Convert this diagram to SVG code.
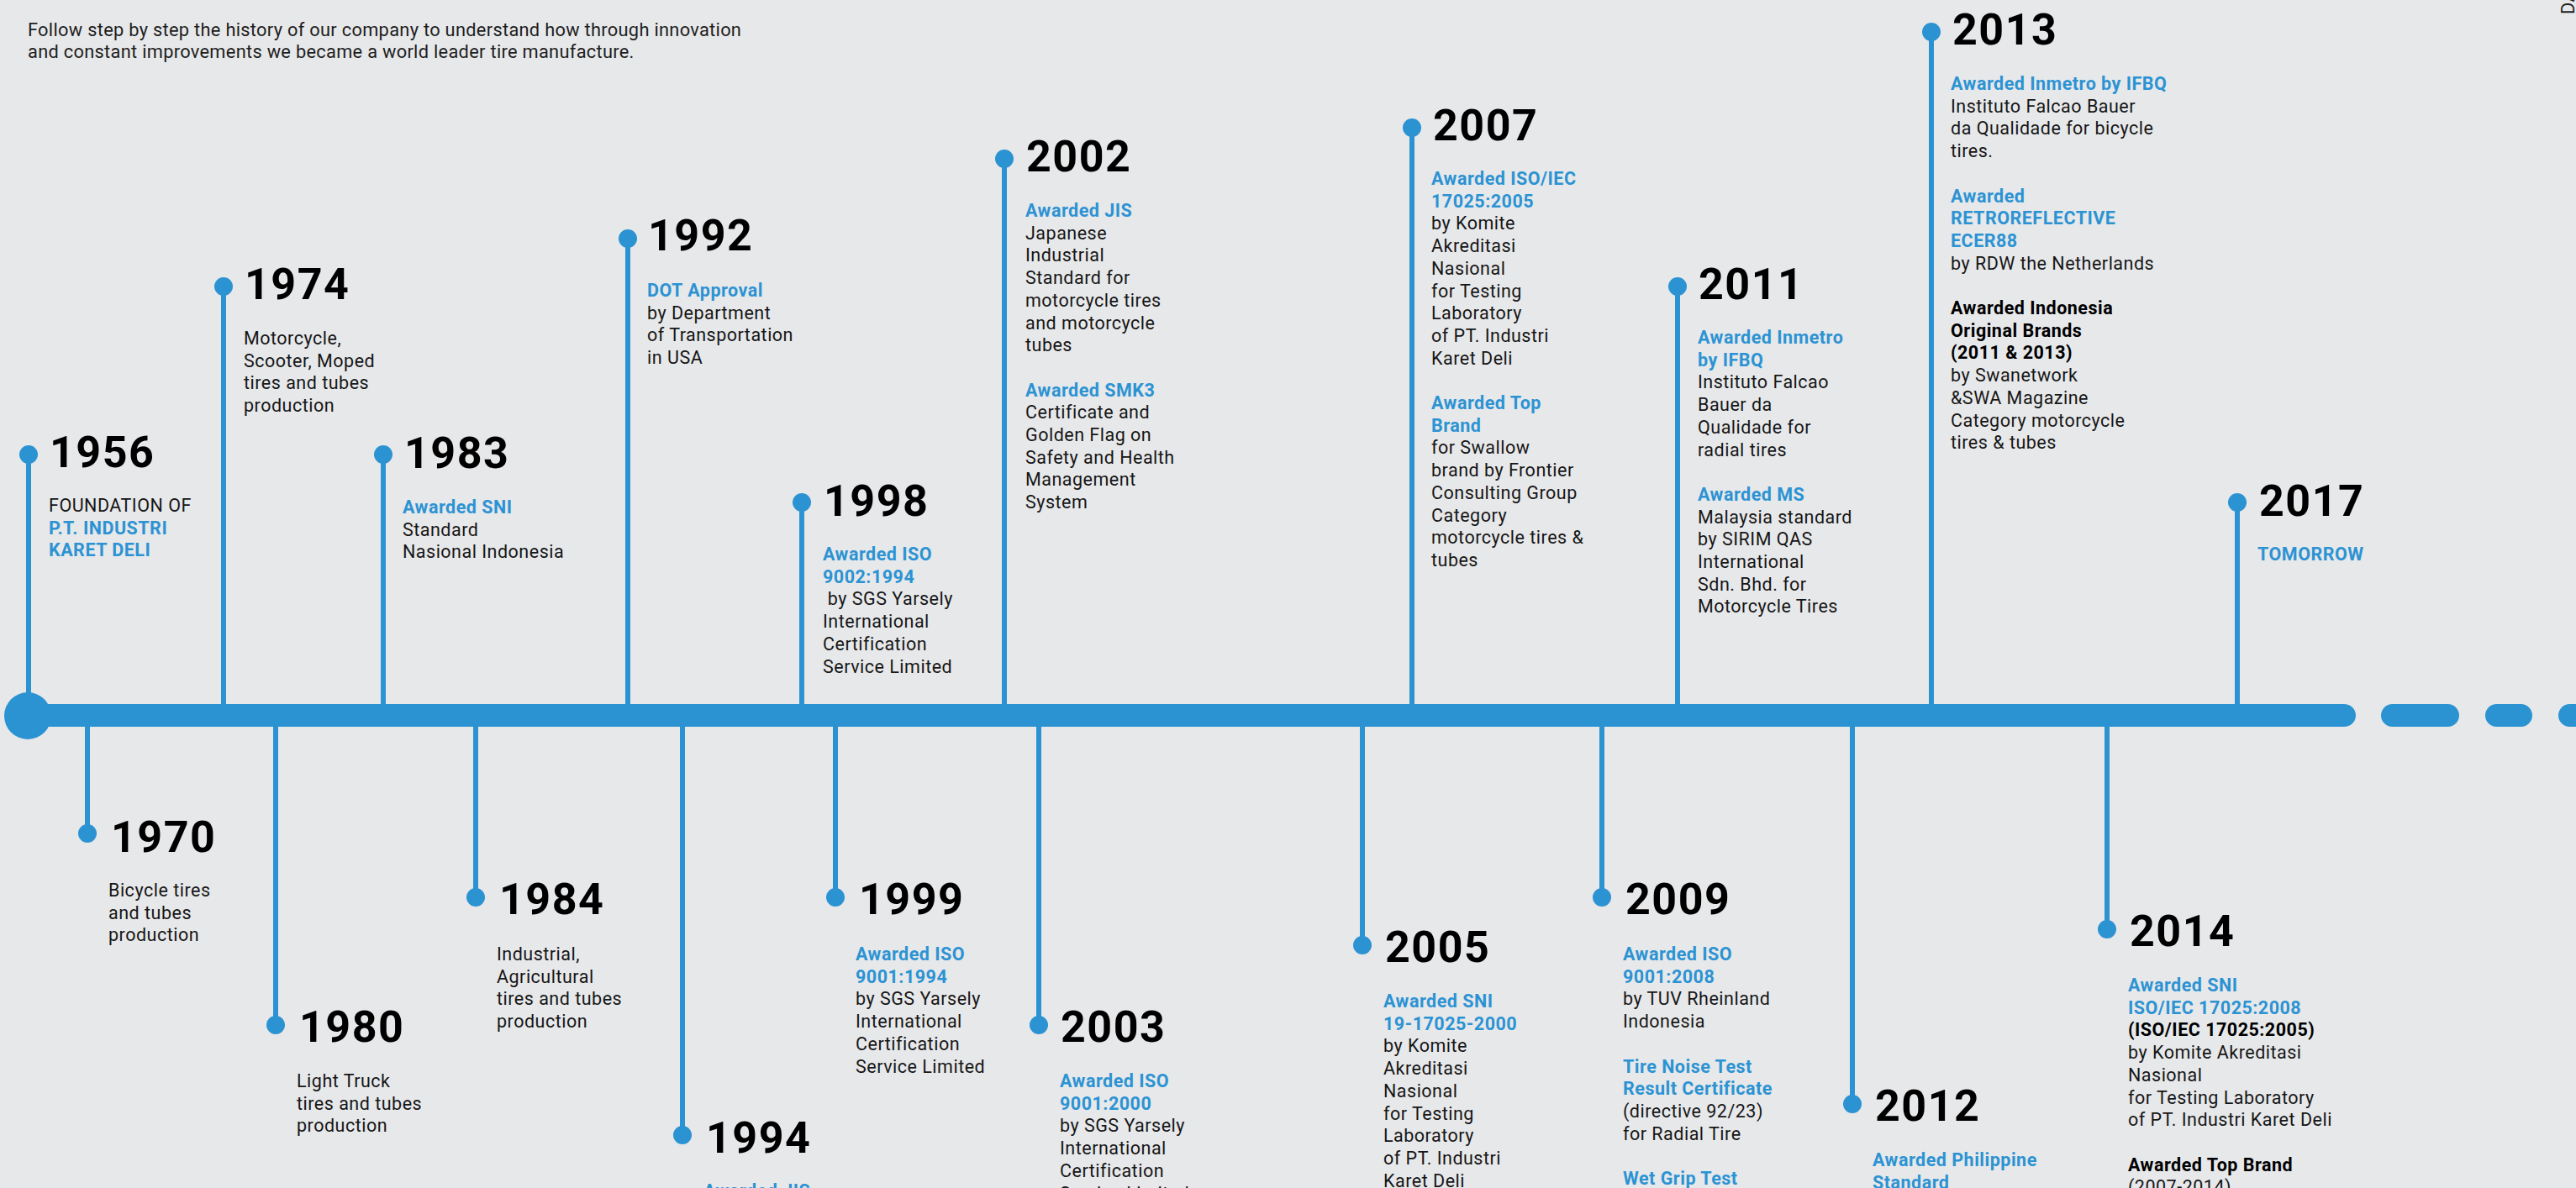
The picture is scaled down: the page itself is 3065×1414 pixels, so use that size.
<svg xmlns="http://www.w3.org/2000/svg" width="3065" height="1414" viewBox="0 0 3065 1414">
<style>
.bg{fill:#e7e8ea}
.stem{stroke:#2c93d3;stroke-width:6;fill:none}
.bar{stroke:#2c93d3;stroke-width:27;stroke-linecap:round;fill:none}
.dot{fill:#2c93d3}
.yr{font-family:Roboto,"Liberation Sans",sans-serif;font-size:52px;font-weight:700;fill:#000;letter-spacing:1.5px}
.tx{font-family:Roboto,"Liberation Sans",sans-serif;font-size:21.5px;fill:#161616;letter-spacing:0.5px}
.hl{font-weight:700;fill:#2c93d3}
.bk{font-weight:700;fill:#000}
.hd{font-family:Roboto,"Liberation Sans",sans-serif;font-size:21.8px;fill:#1e1e1e;letter-spacing:0.3px}
</style>
<rect class="bg" x="0" y="0" width="3065" height="1414"/>
<g id="header">
<text class="hd" x="33" y="43">Follow step by step the history of our company to understand how through innovation</text>
<text class="hd" x="33" y="69">and constant improvements we became a world leader tire manufacture.</text>
<text class="hd" transform="translate(3063,17) rotate(-90)">DA</text>
</g>
<g id="connectors">
<line class="bar" x1="33" y1="851.5" x2="2789.5" y2="851.5"/>
<line class="bar" x1="2846.5" y1="851.5" x2="2912.5" y2="851.5"/>
<line class="bar" x1="2970.5" y1="851.5" x2="2999.5" y2="851.5"/>
<line class="bar" x1="3057.5" y1="851.5" x2="3120" y2="851.5"/>
<circle class="dot" cx="33" cy="852" r="28"/>
<line class="stem" x1="34" y1="541" x2="34" y2="852"/>
<line class="stem" x1="266" y1="341" x2="266" y2="852"/>
<line class="stem" x1="456" y1="541" x2="456" y2="852"/>
<line class="stem" x1="747" y1="284" x2="747" y2="852"/>
<line class="stem" x1="954" y1="598" x2="954" y2="852"/>
<line class="stem" x1="1195" y1="189" x2="1195" y2="852"/>
<line class="stem" x1="1680" y1="152" x2="1680" y2="852"/>
<line class="stem" x1="1996" y1="341" x2="1996" y2="852"/>
<line class="stem" x1="2298" y1="38" x2="2298" y2="852"/>
<line class="stem" x1="2662" y1="598" x2="2662" y2="852"/>
<line class="stem" x1="104" y1="852" x2="104" y2="992"/>
<line class="stem" x1="328" y1="852" x2="328" y2="1220"/>
<line class="stem" x1="566" y1="852" x2="566" y2="1068"/>
<line class="stem" x1="812" y1="852" x2="812" y2="1351"/>
<line class="stem" x1="994" y1="852" x2="994" y2="1068"/>
<line class="stem" x1="1236" y1="852" x2="1236" y2="1220"/>
<line class="stem" x1="1621" y1="852" x2="1621" y2="1125"/>
<line class="stem" x1="1906" y1="852" x2="1906" y2="1068"/>
<line class="stem" x1="2204" y1="852" x2="2204" y2="1314"/>
<line class="stem" x1="2507" y1="852" x2="2507" y2="1106"/>
</g>
<g id="n1956">
<circle class="dot" cx="34" cy="541" r="11"/>
<text class="yr" x="59" y="556">1956</text>
<text class="tx" x="58" y="609"><tspan x="58">FOUNDATION OF</tspan><tspan class="hl" x="58" dy="26.7">P.T. INDUSTRI</tspan><tspan class="hl" x="58" dy="26.7">KARET DELI</tspan></text>
</g>
<g id="n1970">
<circle class="dot" cx="104" cy="992" r="11"/>
<text class="yr" x="132" y="1014">1970</text>
<text class="tx" x="129" y="1067"><tspan x="129">Bicycle tires</tspan><tspan x="129" dy="26.7">and tubes</tspan><tspan x="129" dy="26.7">production</tspan></text>
</g>
<g id="n1974">
<circle class="dot" cx="266" cy="341" r="11"/>
<text class="yr" x="291" y="356">1974</text>
<text class="tx" x="290" y="410"><tspan x="290">Motorcycle,</tspan><tspan x="290" dy="26.7">Scooter, Moped</tspan><tspan x="290" dy="26.7">tires and tubes</tspan><tspan x="290" dy="26.7">production</tspan></text>
</g>
<g id="n1980">
<circle class="dot" cx="328" cy="1220" r="11"/>
<text class="yr" x="356" y="1240">1980</text>
<text class="tx" x="353" y="1294"><tspan x="353">Light Truck</tspan><tspan x="353" dy="26.7">tires and tubes</tspan><tspan x="353" dy="26.7">production</tspan></text>
</g>
<g id="n1983">
<circle class="dot" cx="456" cy="541" r="11"/>
<text class="yr" x="481" y="557">1983</text>
<text class="tx" x="479" y="611"><tspan class="hl" x="479">Awarded SNI</tspan><tspan x="479" dy="26.7">Standard</tspan><tspan x="479" dy="26.7">Nasional Indonesia</tspan></text>
</g>
<g id="n1984">
<circle class="dot" cx="566" cy="1068" r="11"/>
<text class="yr" x="594" y="1088">1984</text>
<text class="tx" x="591" y="1143"><tspan x="591">Industrial,</tspan><tspan x="591" dy="26.7">Agricultural</tspan><tspan x="591" dy="26.7">tires and tubes</tspan><tspan x="591" dy="26.7">production</tspan></text>
</g>
<g id="n1992">
<circle class="dot" cx="747" cy="284" r="11"/>
<text class="yr" x="771" y="298">1992</text>
<text class="tx" x="770" y="353"><tspan class="hl" x="770">DOT Approval</tspan><tspan x="770" dy="26.7">by Department</tspan><tspan x="770" dy="26.7">of Transportation</tspan><tspan x="770" dy="26.7">in USA</tspan></text>
</g>
<g id="n1994">
<circle class="dot" cx="812" cy="1351" r="11"/>
<text class="yr" x="840" y="1372">1994</text>
<text class="tx" x="837" y="1425"><tspan class="hl" x="837">Awarded JIS</tspan></text>
</g>
<g id="n1998">
<circle class="dot" cx="954" cy="598" r="11"/>
<text class="yr" x="980" y="614">1998</text>
<text class="tx" x="979" y="667"><tspan class="hl" x="979">Awarded ISO</tspan><tspan class="hl" x="979" dy="26.7">9002:1994</tspan><tspan x="979" dy="26.7" xml:space="preserve"> by SGS Yarsely</tspan><tspan x="979" dy="26.7">International</tspan><tspan x="979" dy="26.7">Certification</tspan><tspan x="979" dy="26.7">Service Limited</tspan></text>
</g>
<g id="n1999">
<circle class="dot" cx="994" cy="1068" r="11"/>
<text class="yr" x="1022" y="1088">1999</text>
<text class="tx" x="1018" y="1143"><tspan class="hl" x="1018">Awarded ISO</tspan><tspan class="hl" x="1018" dy="26.7">9001:1994</tspan><tspan x="1018" dy="26.7">by SGS Yarsely</tspan><tspan x="1018" dy="26.7">International</tspan><tspan x="1018" dy="26.7">Certification</tspan><tspan x="1018" dy="26.7">Service Limited</tspan></text>
</g>
<g id="n2002">
<circle class="dot" cx="1195" cy="189" r="11"/>
<text class="yr" x="1221" y="204">2002</text>
<text class="tx" x="1220" y="258"><tspan class="hl" x="1220">Awarded JIS</tspan><tspan x="1220" dy="26.7">Japanese</tspan><tspan x="1220" dy="26.7">Industrial</tspan><tspan x="1220" dy="26.7">Standard for</tspan><tspan x="1220" dy="26.7">motorcycle tires</tspan><tspan x="1220" dy="26.7">and motorcycle</tspan><tspan x="1220" dy="26.7">tubes</tspan><tspan class="hl" x="1220" dy="53.4">Awarded SMK3</tspan><tspan x="1220" dy="26.7">Certificate and</tspan><tspan x="1220" dy="26.7">Golden Flag on</tspan><tspan x="1220" dy="26.7">Safety and Health</tspan><tspan x="1220" dy="26.7">Management</tspan><tspan x="1220" dy="26.7">System</tspan></text>
</g>
<g id="n2003">
<circle class="dot" cx="1236" cy="1220" r="11"/>
<text class="yr" x="1262" y="1240">2003</text>
<text class="tx" x="1261" y="1294"><tspan class="hl" x="1261">Awarded ISO</tspan><tspan class="hl" x="1261" dy="26.7">9001:2000</tspan><tspan x="1261" dy="26.7">by SGS Yarsely</tspan><tspan x="1261" dy="26.7">International</tspan><tspan x="1261" dy="26.7">Certification</tspan><tspan x="1261" dy="26.7">Service Limited</tspan></text>
</g>
<g id="n2005">
<circle class="dot" cx="1621" cy="1125" r="11"/>
<text class="yr" x="1648" y="1145">2005</text>
<text class="tx" x="1646" y="1199"><tspan class="hl" x="1646">Awarded SNI</tspan><tspan class="hl" x="1646" dy="26.7">19-17025-2000</tspan><tspan x="1646" dy="26.7">by Komite</tspan><tspan x="1646" dy="26.7">Akreditasi</tspan><tspan x="1646" dy="26.7">Nasional</tspan><tspan x="1646" dy="26.7">for Testing</tspan><tspan x="1646" dy="26.7">Laboratory</tspan><tspan x="1646" dy="26.7">of PT. Industri</tspan><tspan x="1646" dy="26.7">Karet Deli</tspan></text>
</g>
<g id="n2007">
<circle class="dot" cx="1680" cy="152" r="11"/>
<text class="yr" x="1705" y="167">2007</text>
<text class="tx" x="1703" y="220"><tspan class="hl" x="1703">Awarded ISO/IEC</tspan><tspan class="hl" x="1703" dy="26.7">17025:2005</tspan><tspan x="1703" dy="26.7">by Komite</tspan><tspan x="1703" dy="26.7">Akreditasi</tspan><tspan x="1703" dy="26.7">Nasional</tspan><tspan x="1703" dy="26.7">for Testing</tspan><tspan x="1703" dy="26.7">Laboratory</tspan><tspan x="1703" dy="26.7">of PT. Industri</tspan><tspan x="1703" dy="26.7">Karet Deli</tspan><tspan class="hl" x="1703" dy="53.4">Awarded Top</tspan><tspan class="hl" x="1703" dy="26.7">Brand</tspan><tspan x="1703" dy="26.7">for Swallow</tspan><tspan x="1703" dy="26.7">brand by Frontier</tspan><tspan x="1703" dy="26.7">Consulting Group</tspan><tspan x="1703" dy="26.7">Category</tspan><tspan x="1703" dy="26.7">motorcycle tires &amp;</tspan><tspan x="1703" dy="26.7">tubes</tspan></text>
</g>
<g id="n2009">
<circle class="dot" cx="1906" cy="1068" r="11"/>
<text class="yr" x="1934" y="1088">2009</text>
<text class="tx" x="1931" y="1143"><tspan class="hl" x="1931">Awarded ISO</tspan><tspan class="hl" x="1931" dy="26.7">9001:2008</tspan><tspan x="1931" dy="26.7">by TUV Rheinland</tspan><tspan x="1931" dy="26.7">Indonesia</tspan><tspan class="hl" x="1931" dy="53.4">Tire Noise Test</tspan><tspan class="hl" x="1931" dy="26.7">Result Certificate</tspan><tspan x="1931" dy="26.7">(directive 92/23)</tspan><tspan x="1931" dy="26.7">for Radial Tire</tspan><tspan class="hl" x="1931" dy="53.4">Wet Grip Test</tspan></text>
</g>
<g id="n2011">
<circle class="dot" cx="1996" cy="341" r="11"/>
<text class="yr" x="2021" y="356">2011</text>
<text class="tx" x="2020" y="409"><tspan class="hl" x="2020">Awarded Inmetro</tspan><tspan class="hl" x="2020" dy="26.7">by IFBQ</tspan><tspan x="2020" dy="26.7">Instituto Falcao</tspan><tspan x="2020" dy="26.7">Bauer da</tspan><tspan x="2020" dy="26.7">Qualidade for</tspan><tspan x="2020" dy="26.7">radial tires</tspan><tspan class="hl" x="2020" dy="53.4">Awarded MS</tspan><tspan x="2020" dy="26.7">Malaysia standard</tspan><tspan x="2020" dy="26.7">by SIRIM QAS</tspan><tspan x="2020" dy="26.7">International</tspan><tspan x="2020" dy="26.7">Sdn. Bhd. for</tspan><tspan x="2020" dy="26.7">Motorcycle Tires</tspan></text>
</g>
<g id="n2012">
<circle class="dot" cx="2204" cy="1314" r="11"/>
<text class="yr" x="2231" y="1334">2012</text>
<text class="tx" x="2228" y="1388"><tspan class="hl" x="2228">Awarded Philippine</tspan><tspan class="hl" x="2228" dy="26.7">Standard</tspan></text>
</g>
<g id="n2013">
<circle class="dot" cx="2298" cy="38" r="11"/>
<text class="yr" x="2323" y="53">2013</text>
<text class="tx" x="2321" y="107"><tspan class="hl" x="2321">Awarded Inmetro by IFBQ</tspan><tspan x="2321" dy="26.7">Instituto Falcao Bauer</tspan><tspan x="2321" dy="26.7">da Qualidade for bicycle</tspan><tspan x="2321" dy="26.7">tires.</tspan><tspan class="hl" x="2321" dy="53.4">Awarded</tspan><tspan class="hl" x="2321" dy="26.7">RETROREFLECTIVE</tspan><tspan class="hl" x="2321" dy="26.7">ECER88</tspan><tspan x="2321" dy="26.7">by RDW the Netherlands</tspan><tspan class="bk" x="2321" dy="53.4">Awarded Indonesia</tspan><tspan class="bk" x="2321" dy="26.7">Original Brands</tspan><tspan class="bk" x="2321" dy="26.7">(2011 &amp; 2013)</tspan><tspan x="2321" dy="26.7">by Swanetwork</tspan><tspan x="2321" dy="26.7">&amp;SWA Magazine</tspan><tspan x="2321" dy="26.7">Category motorcycle</tspan><tspan x="2321" dy="26.7">tires &amp; tubes</tspan></text>
</g>
<g id="n2014">
<circle class="dot" cx="2507" cy="1106" r="11"/>
<text class="yr" x="2534" y="1126">2014</text>
<text class="tx" x="2532" y="1180"><tspan class="hl" x="2532">Awarded SNI</tspan><tspan class="hl" x="2532" dy="26.7">ISO/IEC 17025:2008</tspan><tspan class="bk" x="2532" dy="26.7">(ISO/IEC 17025:2005)</tspan><tspan x="2532" dy="26.7">by Komite Akreditasi</tspan><tspan x="2532" dy="26.7">Nasional</tspan><tspan x="2532" dy="26.7">for Testing Laboratory</tspan><tspan x="2532" dy="26.7">of PT. Industri Karet Deli</tspan><tspan class="bk" x="2532" dy="53.4">Awarded Top Brand</tspan><tspan x="2532" dy="26.7">(2007-2014)</tspan></text>
</g>
<g id="n2017">
<circle class="dot" cx="2662" cy="598" r="11"/>
<text class="yr" x="2688" y="614">2017</text>
<text class="tx" x="2686" y="667"><tspan class="hl" x="2686">TOMORROW</tspan></text>
</g>
</svg>
